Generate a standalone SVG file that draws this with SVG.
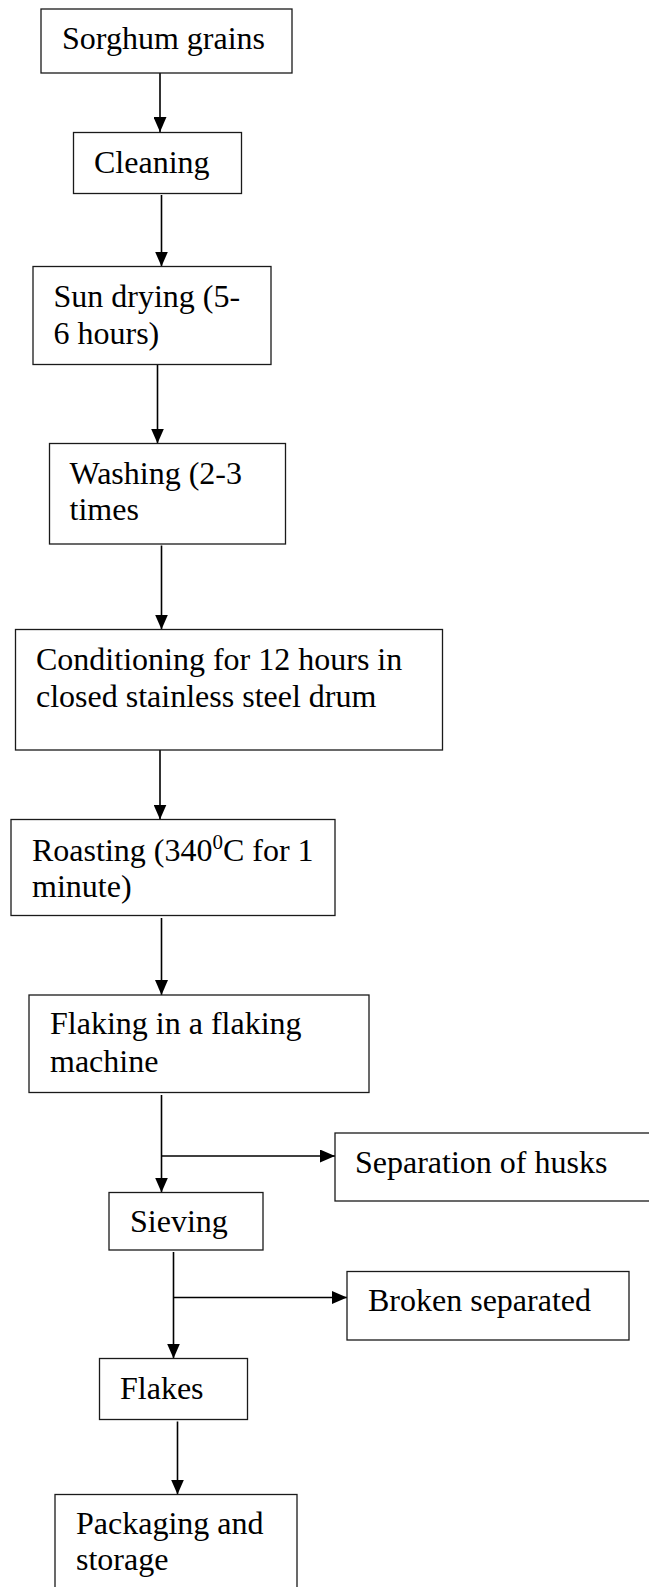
<svg xmlns="http://www.w3.org/2000/svg" width="649" height="1587" viewBox="0 0 649 1587">
<style>
.box{fill:#fff;stroke:#1a1a1a;stroke-width:1.3}
.lbl{font-family:"Liberation Serif","Times New Roman",serif;font-size:32px;fill:#000}
.conn{stroke:#000;stroke-width:1.6;fill:none;marker-end:url(#ah)}
</style>
<defs>
<marker id="ah" markerUnits="userSpaceOnUse" markerWidth="15" markerHeight="13" refX="15" refY="6.5" orient="auto">
<path d="M0,0 L15,6.5 L0,13 z" fill="#000"/>
</marker>
</defs>
<rect width="649" height="1587" fill="#fff"/>
<g id="connectors">
<line class="conn" x1="160" y1="73" x2="160" y2="132"/>
<line class="conn" x1="161.5" y1="195" x2="161.5" y2="266.5"/>
<line class="conn" x1="157.5" y1="364.5" x2="157.5" y2="443.5"/>
<line class="conn" x1="161.5" y1="545.5" x2="161.5" y2="629.5"/>
<line class="conn" x1="160" y1="750" x2="160" y2="819.5"/>
<line class="conn" x1="161.5" y1="918" x2="161.5" y2="995"/>
<line class="conn" x1="161.5" y1="1095" x2="161.5" y2="1192.5"/>
<line class="conn" x1="162" y1="1156" x2="335" y2="1156"/>
<line class="conn" x1="173.5" y1="1252" x2="173.5" y2="1358.5"/>
<line class="conn" x1="174" y1="1297.5" x2="347" y2="1297.5"/>
<line class="conn" x1="177.5" y1="1421.5" x2="177.5" y2="1494.5"/>
</g>
<g id="n1"><rect class="box" x="41" y="9" width="251" height="64"/><text class="lbl" x="62" y="49">Sorghum grains</text></g>
<g id="n2"><rect class="box" x="73.5" y="132.5" width="168" height="61"/><text class="lbl" x="94" y="173">Cleaning</text></g>
<g id="n3"><rect class="box" x="33" y="266.5" width="238" height="98"/><text class="lbl" x="53.5" y="307">Sun drying (5-</text><text class="lbl" x="53.5" y="343.5">6 hours)</text></g>
<g id="n4"><rect class="box" x="49.5" y="443.5" width="236" height="100.5"/><text class="lbl" x="69.5" y="483.5">Washing (2-3</text><text class="lbl" x="69.5" y="520">times</text></g>
<g id="n5"><rect class="box" x="15.5" y="629.5" width="427" height="120.5"/><text class="lbl" x="36" y="669.5">Conditioning for 12 hours in</text><text class="lbl" x="36" y="707">closed stainless steel drum</text></g>
<g id="n6"><rect class="box" x="11" y="819.5" width="324" height="96"/><text class="lbl" x="32" y="861">Roasting (340<tspan font-size="21" dy="-12">0</tspan><tspan dy="12">C for 1</tspan></text><text class="lbl" x="32" y="897">minute)</text></g>
<g id="n7"><rect class="box" x="29" y="995" width="340" height="97.5"/><text class="lbl" x="50" y="1033.5">Flaking in a flaking</text><text class="lbl" x="50" y="1072">machine</text></g>
<g id="n8"><rect class="box" x="335" y="1133" width="330" height="68"/><text class="lbl" x="355" y="1173">Separation of husks</text></g>
<g id="n9"><rect class="box" x="109" y="1192.5" width="154" height="57.5"/><text class="lbl" x="130" y="1232">Sieving</text></g>
<g id="n10"><rect class="box" x="347" y="1271.5" width="282" height="68.5"/><text class="lbl" x="368" y="1311">Broken separated</text></g>
<g id="n11"><rect class="box" x="99.5" y="1358.5" width="148" height="61"/><text class="lbl" x="120" y="1399">Flakes</text></g>
<g id="n12"><rect class="box" x="55" y="1494.5" width="242" height="110"/><text class="lbl" x="76" y="1533.5">Packaging and</text><text class="lbl" x="76" y="1570">storage</text></g>
</svg>
